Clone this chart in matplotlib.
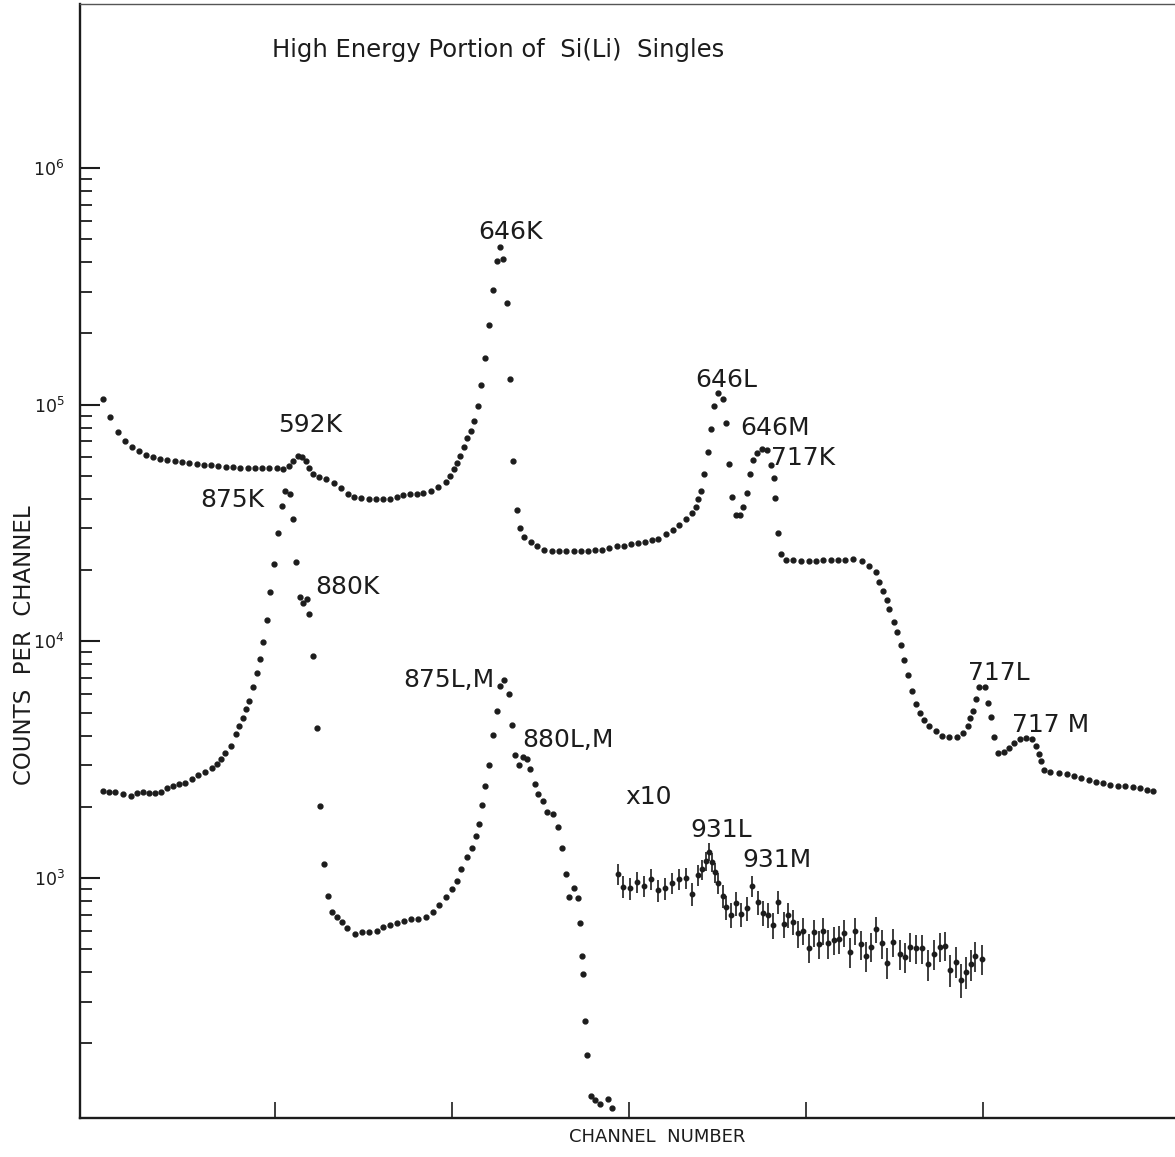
import matplotlib.pyplot as plt
from matplotlib.ticker import FixedLocator, NullFormatter, NullLocator
import numpy as np

# Si(Li) singles, high energy part: main spectrum (upper), 875/880 spectrum (lower),
# and the 931 region scaled x10 with statistical error bars
upper_channel = [51.5, 53.4, 55.6, 57.6, 59.7, 61.6, 63.6, 65.5, 67.5, 69.6,
                 71.7, 73.7, 75.8, 77.9, 79.9, 81.9, 84.0, 86.1, 88.1, 90.2,
                 92.3, 94.3, 96.4, 98.4, 100.5, 102.1, 103.8, 105.2, 106.6, 107.7,
                 108.7, 109.7, 110.8, 112.5, 114.4, 116.7, 118.6, 120.5, 122.3, 124.3,
                 126.4, 128.4, 130.4, 132.4, 134.4, 136.2, 138.1, 140.0, 141.9, 144.0,
                 146.1, 148.2, 149.4, 150.4, 151.3, 152.3, 153.4, 154.3, 155.3, 156.3,
                 157.3, 158.3, 159.3, 160.3, 161.5, 162.6, 163.4, 164.5, 165.5, 166.4,
                 167.3, 168.3, 169.2,
                 170.3, 172.2, 174.1, 176.1, 178.2, 180.2, 182.3, 184.3, 186.4, 188.3,
                 190.4, 192.4, 194.4, 196.5, 198.6, 200.6, 202.6, 204.5, 206.4, 208.3,
                 210.4, 212.4, 214.2, 216.1, 217.7, 218.8, 219.6, 220.4, 221.2, 222.2,
                 223.2, 224.1, 225.1, 226.4, 227.3, 228.3, 229.2, 230.1, 231.4, 232.3,
                 233.3, 234.2, 235.1, 236.2, 237.5, 238.9, 240.1, 240.8, 241.3, 242.2,
                 242.9, 244.2, 246.4, 248.5, 250.7, 252.7, 254.9, 257.0, 259.0, 261.1,
                 263.3, 265.7, 267.8, 269.8, 270.7, 271.8, 272.8, 273.5, 274.7, 275.6,
                 276.8, 277.7, 278.7, 279.9, 281.0, 282.2, 283.4, 284.8, 286.6, 288.3,
                 290.4, 292.7, 294.4, 295.6, 296.3, 297.1, 298.0, 298.9, 300.6, 301.5,
                 302.3, 303.1, 304.2, 305.9, 307.4, 308.8, 310.3, 312.0, 313.8, 314.9,
                 315.8, 316.4, 317.3, 318.9, 321.5, 323.6, 325.8, 327.7, 329.8, 331.8,
                 333.8, 335.9, 338.1, 340.1, 342.2, 344.2, 346.2, 348.1]
upper_counts = [106000, 88900, 76800, 70200, 66400, 63700, 61200, 59900, 58900, 58200,
                57600, 57100, 56700, 56300, 55800, 55400, 55000, 54700, 54300, 54100,
                54000, 54000, 53800, 53800, 53800, 53600, 55000, 57800, 60600, 59900,
                57800, 54100, 50800, 49600, 48600, 46500, 44300, 41900, 40800, 40200,
                39900, 39800, 39800, 40000, 40800, 41400, 41800, 41900, 42400, 43300,
                44700, 47300, 49900, 53300, 56500, 60800, 66400, 72000, 77600, 85200,
                98900, 121000, 158000, 218000, 305000, 404000, 463000, 413000, 270000, 129000,
                57900, 35900, 30000,
                27700, 26300, 25300, 24300, 24200, 24100, 24100, 24200, 24200, 24200,
                24300, 24300, 24900, 25200, 25400, 25700, 26100, 26300, 26800, 27200,
                28300, 29600, 31100, 32900, 35000, 37100, 40100, 43200, 50800, 62900,
                78700, 98800, 112000, 106000, 83800, 56100, 40600, 34200, 34200, 37000,
                42200, 50800, 58300, 62600, 64700, 64300, 55600, 48800, 40200, 28600,
                23500, 22100, 22000, 21900, 21900, 21900, 22000, 22000, 22100, 22100,
                22200, 21800, 20800, 19600, 17900, 16300, 14900, 13700, 12100, 11000,
                9650, 8340, 7200, 6180, 5420, 4960, 4650, 4390, 4190, 3980,
                3950, 3950, 4110, 4390, 4730, 5080, 5690, 6390, 6390, 5470,
                4800, 3930, 3360, 3400, 3530, 3710, 3870, 3890, 3870, 3610,
                3340, 3130, 2860, 2800, 2770, 2740, 2700, 2640, 2590, 2550,
                2510, 2480, 2460, 2450, 2420, 2390, 2350, 2340]

lower_channel = [51.5, 53.2, 54.9, 57.1, 59.3, 61.1, 62.8, 64.4, 66.2, 67.9,
                 69.6, 71.3, 73.0, 74.6, 76.4, 78.2, 80.2, 82.1, 83.5, 84.7,
                 85.9, 87.5, 88.9, 89.8, 90.8, 91.7, 92.7, 93.7, 94.8, 95.8,
                 96.5, 97.7, 98.7, 99.7, 100.8, 101.9, 102.8, 104.2, 105.0, 105.9,
                 106.9, 107.8, 109.0, 109.7, 110.8, 111.8, 112.7, 113.8, 114.9, 116.2,
                 117.4, 118.8, 120.4, 122.6, 124.5, 126.4, 128.7, 130.6, 132.5, 134.4,
                 136.4, 138.4, 140.5, 142.7, 144.5, 146.4, 148.3, 150.0, 151.3, 152.5,
                 154.3, 155.6, 156.7, 157.6, 158.4, 159.4, 160.5, 161.6, 162.6, 163.4,
                 164.8, 166.1, 166.8, 167.8, 168.8, 170.0, 171.1, 172.1, 173.3, 174.4,
                 175.8, 176.9, 178.6, 180.0, 181.1, 182.2, 183.1, 184.5, 185.5, 186.2,
                 186.6, 187.1, 187.6, 188.1, 189.2, 190.4, 191.8, 193.9, 195.3]
lower_counts = [2340, 2310, 2300, 2260, 2220, 2280, 2300, 2280, 2280, 2300,
                2400, 2450, 2490, 2530, 2620, 2720, 2810, 2920, 3030, 3190,
                3360, 3610, 4050, 4400, 4760, 5180, 5580, 6410, 7370, 8390,
                9960, 12300, 16100, 21200, 28800, 37300, 43200, 41800, 33000, 21600,
                15400, 14500, 15100, 13100, 8710, 4300, 2010, 1150, 840, 721,
                686, 654, 613, 580, 591, 591, 595, 622, 633, 643,
                658, 671, 671, 686, 721, 769, 829, 896, 968, 1090,
                1230, 1340, 1510, 1700, 2030, 2450, 3000, 4010, 5060, 6490,
                6900, 5990, 4420, 3310, 2990, 3240, 3190, 2890, 2490, 2260,
                2120, 1910, 1860, 1640, 1340, 1040, 829, 910, 823, 643,
                468, 392, 249, 179, 120, 115, 111, 117, 107]

x10_channel = [196.8, 198.4, 200.3, 202.3, 204.3, 206.2, 208.1, 210.2, 212.1, 214.1,
               216.1, 217.7, 219.6, 220.7, 221.8, 222.5, 223.5, 224.3, 225.2, 226.4,
               227.3, 228.7, 230.1, 231.6, 233.3, 234.7, 236.4, 237.7, 239.2, 240.6,
               242.2, 243.8, 245.0, 246.2, 247.8, 249.2, 250.8, 252.1, 253.6, 254.9,
               256.3, 257.9, 259.4, 260.8, 262.4, 263.9, 265.5, 267.0, 268.4, 269.8,
               271.4, 272.8, 274.5, 276.4, 278.0, 279.4, 281.1, 282.7, 284.4, 286.0,
               287.7, 289.1, 290.7, 292.3, 293.7, 295.2, 296.5, 297.7, 299.6]
x10_counts = [1040, 920, 905, 965, 925, 990, 890, 905, 955, 990,
              1000, 856, 1030, 1090, 1180, 1290, 1170, 1060, 950, 840,
              752, 698, 782, 703, 745, 925, 790, 714, 698, 633,
              794, 639, 698, 654, 584, 599, 508, 590, 526, 599,
              530, 547, 551, 587, 488, 599, 525, 469, 513, 607,
              530, 439, 535, 478, 465, 513, 505, 505, 432, 478,
              513, 518, 409, 443, 371, 402, 432, 469, 455]

# peak labels: text, channel, counts at the left/centre of the text
peak_labels = [("646K", 157.3, 536000), ("592K", 100.8, 82000),
               ("646L", 218.6, 127000), ("646M", 231.4, 79600),
               ("717K", 240.1, 59500), ("875K", 78.8, 39500),
               ("880K", 111.3, 17000), ("875L,M", 136.2, 6860),
               ("880L,M", 169.8, 3830), ("x10", 198.9, 2200),
               ("931L", 217.2, 1600), ("931M", 231.9, 1190),
               ("717L", 295.8, 7350), ("717 M", 308.2, 4430)]

ink = "#1c1c1c"

fig = plt.figure(figsize=(11.75, 11.57), dpi=100)
ax = fig.add_axes([0.0681, 0.0341, 0.9319, 0.9624])

ax.plot(upper_channel, upper_counts, linestyle="none", marker="o", ms=3.5, color=ink)
ax.plot(lower_channel, lower_counts, linestyle="none", marker="o", ms=3.5, color=ink)

# x10 data: error from counting statistics of the unscaled counts
x10 = np.array(x10_counts, dtype=float)
ax.errorbar(x10_channel, x10, yerr=np.sqrt(10 * x10), fmt="o", ms=3.2,
            color=ink, ecolor=ink, elinewidth=1.2, capsize=0)

ax.set_yscale("log")
ax.set_ylim(97.3, 4.93e6)
ax.set_xlim(44.9, 354.2)

# minor ticks only up to the 10^6 mark
minor_ticks = [m * 10.0 ** e for e in range(2, 6) for m in range(2, 10)]
ax.yaxis.set_major_locator(FixedLocator([1e3, 1e4, 1e5, 1e6]))
ax.yaxis.set_minor_locator(FixedLocator(minor_ticks))
ax.yaxis.set_minor_formatter(NullFormatter())
ax.set_yticklabels([r"$10^{3}$", r"$10^{4}$", r"$10^{5}$", r"$10^{6}$"])
ax.xaxis.set_major_locator(FixedLocator([100, 150, 200, 250, 300]))
ax.xaxis.set_minor_locator(NullLocator())
ax.set_xticklabels([])

ax.tick_params(axis="y", which="major", direction="in", length=14.5, width=1.5,
               color=ink, labelsize=12.5, labelcolor=ink, pad=11)
ax.tick_params(axis="y", which="minor", direction="in", length=8.5, width=1.3, color=ink)
ax.tick_params(axis="x", which="major", direction="in", length=11.5, width=1.2, color=ink)

for side in ["left", "bottom"]:
    ax.spines[side].set_linewidth(1.7)
    ax.spines[side].set_color(ink)
ax.spines["top"].set_linewidth(1.0)
ax.spines["top"].set_color("#555555")
ax.spines["right"].set_visible(False)

for label, ch, cnt in peak_labels:
    ax.text(ch, cnt, label, fontsize=18, color=ink, ha="left", va="center")

ax.text(99.2, 3.15e6, "High Energy Portion of  Si(Li)  Singles", fontsize=17.5,
        color=ink, ha="left", va="center")

fig.text(25 / 1175, 1 - 645 / 1157, "COUNTS  PER  CHANNEL", rotation=90,
         fontsize=16.5, color=ink, ha="center", va="center")
fig.text(657 / 1175, 1 - 1137 / 1157, "CHANNEL  NUMBER", fontsize=13,
         color=ink, ha="center", va="center")

fig.savefig("out.png", dpi=100)
